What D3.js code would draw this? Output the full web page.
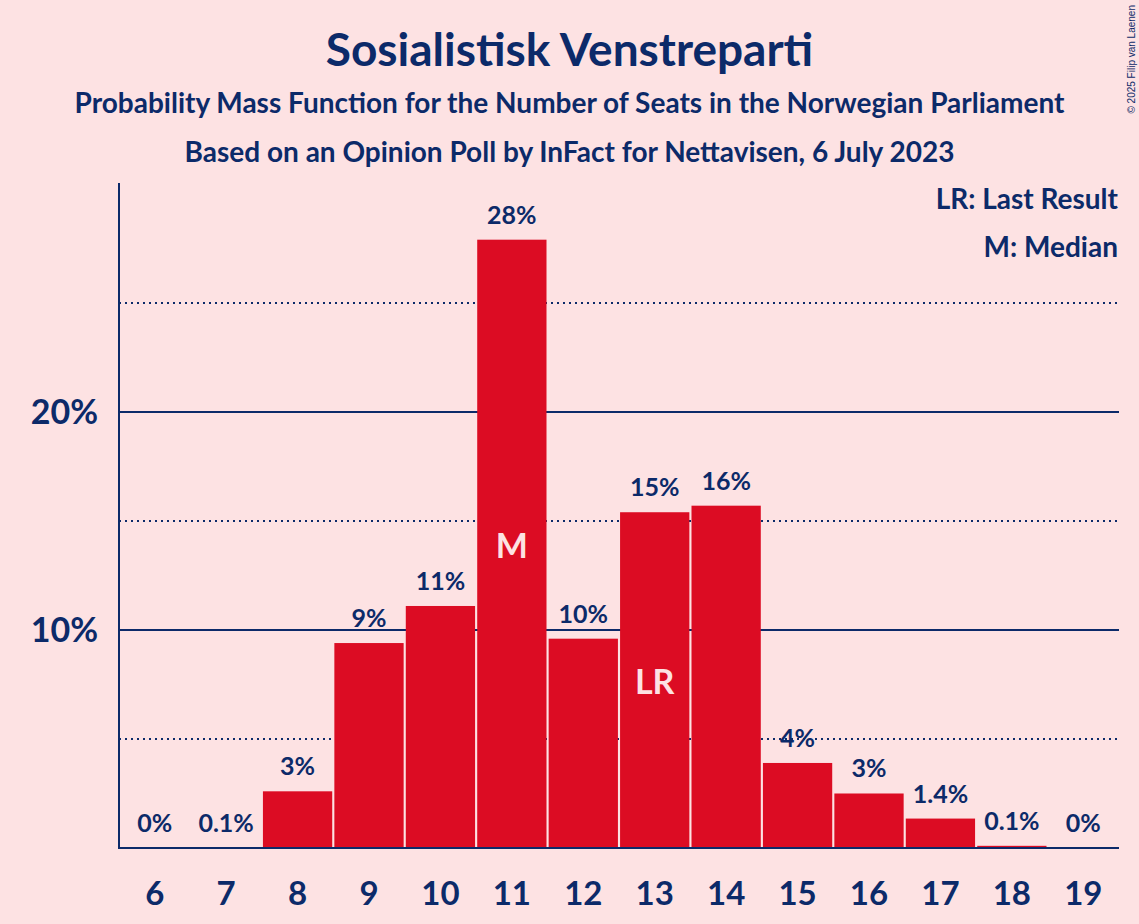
<!DOCTYPE html>
<html>
<head>
<meta charset="utf-8">
<script src="https://cdn.jsdelivr.net/npm/d3@7"></script>
<style>
  body { margin: 0; background: #fde2e3; }
  svg { display: block; font-family: Lato, "Open Sans", sans-serif; }
</style>
</head>
<body>
<div id="chart"></div>
<script>
// seats and probability (%)
var seats = [6, 7, 8, 9, 10, 11, 12, 13, 14, 15, 16, 17, 18, 19];
var probs = [0, 0.02, 2.6, 9.4, 11.1, 27.9, 9.6, 15.4, 15.7, 3.9, 2.5, 1.35, 0.1, 0];
var solidTicks = [10, 20];
var dottedTicks = [5, 15, 25];
var markers = { 11: "M", 13: "LR" };
var legendLines = ["LR: Last Result", "M: Median"];

var W = 1139, H = 924;
var navy = "#0c2a69", red = "#dc0c23", bg = "#fde2e3";

var svg = d3.select("#chart").append("svg")
    .attr("width", W).attr("height", H);

svg.append("rect").attr("width", W).attr("height", H).attr("fill", bg);

var x = d3.scaleBand()
    .domain(seats)
    .range([119, 1119])
    .paddingInner(0.03)
    .paddingOuter(0.015);

var y = d3.scaleLinear()
    .domain([0, 30.5])
    .range([848, 183]);

// titles
svg.append("text").attr("x", W / 2).attr("y", 66)
    .attr("text-anchor", "middle").attr("fill", navy)
    .style("font-size", "46px").style("font-weight", 700)
    .text("Sosialistisk Venstreparti");
svg.append("text").attr("x", W / 2).attr("y", 113)
    .attr("text-anchor", "middle").attr("fill", navy)
    .style("font-size", "28px").style("font-weight", 700)
    .text("Probability Mass Function for the Number of Seats in the Norwegian Parliament");
svg.append("text").attr("x", W / 2).attr("y", 162)
    .attr("text-anchor", "middle").attr("fill", navy)
    .style("font-size", "28px").style("font-weight", 700)
    .text("Based on an Opinion Poll by InFact for Nettavisen, 6 July 2023");

// copyright
svg.append("text")
    .attr("transform", "translate(1135,5) rotate(-90)")
    .attr("text-anchor", "end").attr("fill", navy)
    .style("font-family", "'Liberation Sans', Arial, sans-serif")
    .style("font-size", "10px")
    .text("© 2025 Filip van Laenen");

// gridlines
svg.selectAll(".grid-solid").data(solidTicks).enter().append("line")
    .attr("x1", 119).attr("x2", 1119)
    .attr("y1", function(d) { return y(d); }).attr("y2", function(d) { return y(d); })
    .attr("stroke", navy).attr("stroke-width", 2);
svg.selectAll(".grid-dot").data(dottedTicks).enter().append("line")
    .attr("x1", 119).attr("x2", 1119)
    .attr("y1", function(d) { return y(d); }).attr("y2", function(d) { return y(d); })
    .attr("stroke", navy).attr("stroke-width", 2)
    .attr("stroke-dasharray", "2,4");

// y tick labels
svg.selectAll(".ytick").data(solidTicks).enter().append("text")
    .attr("x", 98).attr("y", function(d) { return y(d) + 12; })
    .attr("text-anchor", "end").attr("fill", navy)
    .style("font-size", "34px").style("font-weight", 700)
    .text(function(d) { return d + "%"; });

// bars
svg.selectAll(".bar").data(seats).enter().append("rect")
    .attr("x", function(d) { return x(d); })
    .attr("width", x.bandwidth())
    .attr("y", function(d, i) { return y(probs[i]); })
    .attr("height", function(d, i) { return y(0) - y(probs[i]); })
    .attr("fill", red);

function fmt(v) {
    if (v === 0) return "0%";
    if (v < 0.1) return "0.1%";
    if (v < 2) return v.toFixed(1) + "%";
    return Math.round(v) + "%";
}

// value labels
svg.selectAll(".val").data(seats).enter().append("text")
    .attr("x", function(d) { return x(d) + x.bandwidth() / 2; })
    .attr("y", function(d, i) { return y(probs[i]) - 16; })
    .attr("text-anchor", "middle").attr("fill", navy)
    .style("font-size", "25px").style("font-weight", 700)
    .text(function(d, i) { return fmt(probs[i]); });

// M / LR markers inside bars
var markSeats = seats.filter(function(s) { return markers[s]; });
svg.selectAll(".mark").data(markSeats).enter().append("text")
    .attr("x", function(d) { return x(d) + x.bandwidth() / 2; })
    .attr("y", function(d) { return y(probs[seats.indexOf(d)] / 2) + 14; })
    .attr("text-anchor", "middle").attr("fill", bg)
    .style("font-size", "34px").style("font-weight", 700)
    .text(function(d) { return markers[d]; });

// axes lines
svg.append("line").attr("x1", 119).attr("x2", 119).attr("y1", 183).attr("y2", 849)
    .attr("stroke", navy).attr("stroke-width", 2);
svg.append("line").attr("x1", 118).attr("x2", 1119).attr("y1", y(0)).attr("y2", y(0))
    .attr("stroke", navy).attr("stroke-width", 2);

// x tick labels
svg.selectAll(".xtick").data(seats).enter().append("text")
    .attr("x", function(d) { return x(d) + x.bandwidth() / 2; })
    .attr("y", 905)
    .attr("text-anchor", "middle").attr("fill", navy)
    .style("font-size", "33px").style("font-weight", 700)
    .text(function(d) { return d; });

// legend
svg.selectAll(".legend").data(legendLines).enter().append("text")
    .attr("x", 1118).attr("y", function(d, i) { return 209 + i * 48; })
    .attr("text-anchor", "end").attr("fill", navy)
    .style("font-size", "28px").style("font-weight", 700)
    .text(function(d) { return d; });
</script>
</body>
</html>
